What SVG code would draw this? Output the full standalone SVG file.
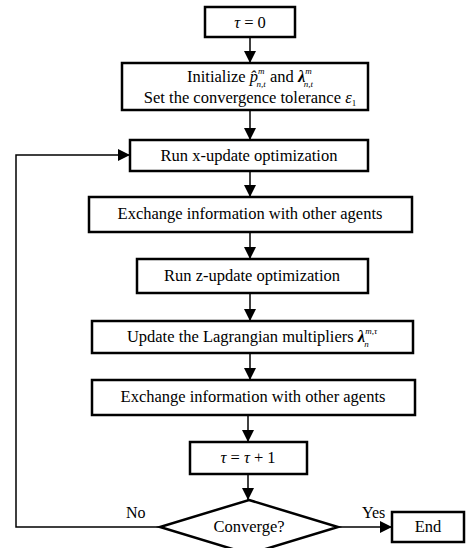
<svg xmlns="http://www.w3.org/2000/svg" width="467" height="548" viewBox="0 0 467 548">
<defs>
<style>
.box{fill:#fff;stroke:#000;stroke-width:2.5}
.t{font-family:'Liberation Serif','Times New Roman',serif;font-size:16.5px;fill:#000;text-anchor:middle}
.lbl{font-family:'Liberation Serif','Times New Roman',serif;font-size:16px;fill:#000}
.c{fill:none;stroke:#000;stroke-width:1.5}
.i{font-style:italic}
.bi{font-style:italic;font-weight:bold}
.s{font-size:9px}
</style>
<marker id="ah" viewBox="0 0 12 12" refX="12" refY="6" markerWidth="12" markerHeight="12" markerUnits="userSpaceOnUse" orient="auto">
<path d="M0,0 L12,6 L0,12 Z" fill="#000"/>
</marker>
</defs>
<g id="connectors">
<line class="c" x1="250" y1="37" x2="250" y2="63" marker-end="url(#ah)"/>
<line class="c" x1="250" y1="110" x2="250" y2="140" marker-end="url(#ah)"/>
<line class="c" x1="250" y1="171" x2="250" y2="197" marker-end="url(#ah)"/>
<line class="c" x1="250" y1="232" x2="250" y2="259" marker-end="url(#ah)"/>
<line class="c" x1="250" y1="293" x2="250" y2="321" marker-end="url(#ah)"/>
<line class="c" x1="250" y1="353" x2="250" y2="380" marker-end="url(#ah)"/>
<line class="c" x1="248" y1="415" x2="248" y2="442" marker-end="url(#ah)"/>
<line class="c" x1="248" y1="474" x2="248" y2="500" marker-end="url(#ah)"/>
<polyline class="c" points="160,527 16,527 16,155 130,155" marker-end="url(#ah)"/>
<line class="c" x1="338" y1="527" x2="392" y2="527" marker-end="url(#ah)"/>
<text class="lbl" x="126" y="518">No</text>
<text class="lbl" x="362" y="518">Yes</text>
</g>
<g id="n-start">
<rect class="box" x="205" y="7" width="90" height="30"/>
<text class="t" x="250" y="28"><tspan class="i">τ</tspan> = 0</text>
</g>
<g id="n-init">
<rect class="box" x="122" y="63" width="246" height="47"/>
<text class="t" x="250" y="82">Initialize <tspan class="i">p̂</tspan><tspan class="i s" dy="-8">m</tspan><tspan class="i s" dx="-8" dy="13">n,t</tspan><tspan dy="-5"> and </tspan><tspan class="bi">λ</tspan><tspan class="i s" dy="-8">m</tspan><tspan class="i s" dx="-8" dy="13">n,t</tspan></text>
<text class="t" x="250" y="103">Set the convergence tolerance <tspan class="i">ε</tspan><tspan class="s" dy="3">1</tspan></text>
</g>
<g id="n-xupdate">
<rect class="box" x="130" y="140" width="238" height="31"/>
<text class="t" x="249" y="161">Run x-update optimization</text>
</g>
<g id="n-exchange1">
<rect class="box" x="89" y="197" width="323" height="35"/>
<text class="t" x="250" y="219">Exchange information with other agents</text>
</g>
<g id="n-zupdate">
<rect class="box" x="137" y="259" width="231" height="34"/>
<text class="t" x="252" y="281">Run z-update optimization</text>
</g>
<g id="n-lagrange">
<rect class="box" x="92" y="321" width="321" height="32"/>
<text class="t" x="252" y="342">Update the Lagrangian multipliers <tspan class="bi">λ</tspan><tspan class="i s" dy="-8">m,τ</tspan><tspan class="i s" dx="-13" dy="13">n</tspan><tspan class="s" dx="8" dy="-5"> </tspan></text>
</g>
<g id="n-exchange2">
<rect class="box" x="92" y="380" width="323" height="35"/>
<text class="t" x="253" y="402">Exchange information with other agents</text>
</g>
<g id="n-inc">
<rect class="box" x="190" y="442" width="117" height="32"/>
<text class="t" x="248" y="463"><tspan class="i">τ</tspan> = <tspan class="i">τ</tspan> + 1</text>
</g>
<g id="n-converge">
<polygon class="box" points="249,500 338,527 249,554 160,527"/>
<text class="t" x="249" y="532">Converge?</text>
</g>
<g id="n-end">
<rect class="box" x="392" y="512" width="72" height="30"/>
<text class="t" x="428" y="532">End</text>
</g>
</svg>
